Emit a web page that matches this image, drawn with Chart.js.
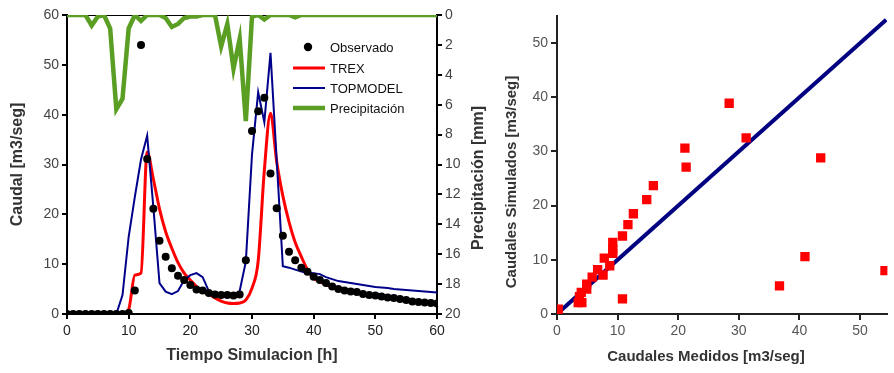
<!DOCTYPE html>
<html><head><meta charset="utf-8">
<script src="https://cdn.jsdelivr.net/npm/chart.js@4.4.0/dist/chart.umd.min.js"></script>
<style>
html,body{margin:0;padding:0;background:#fff;}
#c1{position:absolute;left:0;top:0;}
#c2{position:absolute;left:495px;top:0;}
</style></head><body>
<canvas id="c1" width="495" height="373"></canvas>
<canvas id="c2" width="399" height="373"></canvas>
<script>
// ---- Hidrograma (horas 0..60) ----
const horas = [0,1,2,3,4,5,6,7,8,9,10,11,12,13,14,15,16,17,18,19,20,21,22,23,24,25,26,27,28,29,30,
  31,32,33,34,35,36,37,38,39,40,41,42,43,44,45,46,47,48,49,50,51,52,53,54,55,56,57,58,59,60];
const observado = [0,0,0,0,0,0,0,0,0,0,0.2,
  4.7,54,31.1,21.1,14.7,11.5,9.2,7.7,6.8,5.8,
  4.9,4.7,4.2,3.9,3.8,3.8,3.7,3.9,10.8,36.7,
  40.7,43.4,28.2,21.2,15.7,12.5,10.8,9.3,8.5,7.5,
  6.8,6.2,5.5,5.0,4.7,4.5,4.4,4.0,3.8,3.7,
  3.5,3.3,3.2,3.0,2.8,2.5,2.4,2.3,2.2,2.1];
const trex = [0,0,0,0,0,0,0,0,0,0,
  0.9,7.8,8.2,32.5,27.1,21.1,16.5,13.2,10.3,8.2,6.8,
  5.5,4.6,4.0,3.2,2.6,2.2,2.1,2.2,2.8,5.2,
  10.6,28.8,40.3,30.6,23.7,18.5,14.4,11.5,8.9,7.2,
  6.5,5.9,5.4,5.0,4.7,4.4,4.2,4.0,3.8,3.6,
  3.4,3.3,3.1,3.0,2.8,2.7,2.5,2.4,2.3,2.2];
const topmodel = [0,0,0,0,0,0,0,0,0,
  3.8,15.5,23.5,31,35.8,21.5,6.2,4.5,4.0,4.6,
  6.8,7.8,8.2,7.4,4.6,4.1,3.9,3.7,3.5,4.6,
  10.5,32,44.5,38.5,52.4,31,9.6,9.3,8.9,8.5,
  8.3,8.2,8.0,7.4,7.0,6.6,6.4,6.2,6.0,5.8,
  5.6,5.4,5.3,5.2,5.0,4.9,4.8,4.7,4.6,4.5,
  4.4,4.3];
const precipitacion = [0,0,0,0,0.7,0.1,0,0.9,6.3,5.6,
  0.9,0,0.4,0,0,0,0.2,0.8,0.6,0.2,
  0.1,0.1,0,0,0,2.1,0.6,3.6,1.6,7.1,
  0.1,0,0.3,0,0,0,0,0.15,0,0,
  0,0,0,0,0,0,0,0,0,0,0,0,0,0,0,0,0,0,0,0,0];
const ticksCaudal = [0,10,20,30,40,50,60];
const ticksPrecip = [0,2,4,6,8,10,12,14,16,18,20];

// ---- Dispersión: medidos vs simulados ----
const medidos =   [0,0.2,3.5,4.1,3.7,4.0,4.9,4.9,5.8,6.7,7.6,8.7,7.8,9.2,9.2,9.2,10.8,11.7,12.6,14.8,15.9,21.3,21.1,28.4,31.2,43.5,40.9,36.7,54.1,10.8];
const simulados = [0,0.9,2.1,2.1,3.2,4.0,4.6,5.5,6.8,8.2,7.2,8.9,10.3,11.2,11.9,13.2,14.4,16.5,18.5,21.1,23.7,27.1,30.6,38.9,32.5,28.8,10.6,5.2,8.0,2.8];
const lineaXY = [0,54.3];

const FONT = "'Liberation Sans', Arial, Helvetica, sans-serif";
const pts = (xs, ys) => xs.map((x,i)=>({x:x, y:ys[i]}));

function drawText(ctx, text, x, y, size, rot){
  ctx.save();
  ctx.font = "bold " + size + "px " + FONT;
  ctx.fillStyle = '#333';
  ctx.textAlign = 'center'; ctx.textBaseline = 'middle';
  ctx.translate(x, y); if (rot) ctx.rotate(rot);
  ctx.fillText(text, 0, 0);
  ctx.restore();
}

const topLine = {
  id:'topLine',
  beforeDatasetsDraw(chart){
    const {ctx, chartArea:a} = chart;
    ctx.save(); ctx.strokeStyle='#000'; ctx.lineWidth=1;
    ctx.beginPath(); ctx.moveTo(a.left, a.top+0.5); ctx.lineTo(a.right, a.top+0.5); ctx.stroke();
    ctx.restore();
  }
};
const titulosIzq = {
  id:'titulosIzq',
  afterDraw(chart){
    drawText(chart.ctx, 'Precipitación [mm]', 479, 178, 16, -Math.PI/2);
  }
};
const leyenda = {
  id:'leyenda',
  afterDatasetsDraw(chart){
    const ctx = chart.ctx;
    const ds = chart.data.datasets;
    const x0 = 293, x1 = 325, tx = 330;
    const rows = [47, 68, 88, 108];
    ctx.save();
    ctx.font = "13px " + FONT;
    ctx.textBaseline = 'middle';
    ctx.beginPath(); ctx.fillStyle='#000'; ctx.arc(308, rows[0], 4.2, 0, Math.PI*2); ctx.fill();
    const items = [ds[0], ds[2], ds[1], ds[3]];
    for (let i=1;i<4;i++){
      ctx.strokeStyle = items[i].borderColor; ctx.lineWidth = items[i].borderWidth;
      ctx.beginPath(); ctx.moveTo(x0, rows[i]); ctx.lineTo(x1, rows[i]); ctx.stroke();
    }
    ctx.fillStyle='#111';
    for (let i=0;i<4;i++) ctx.fillText(items[i].label, tx, rows[i]+1);
    ctx.restore();
  }
};

const axisGrid = {drawOnChartArea:false, drawTicks:true, tickLength:5, color:'#000', lineWidth:2};
const axisBorder = {display:true, color:'#000', width:2};

new Chart(document.getElementById('c1'), {
  type:'line',
  data:{datasets:[
    {label:'Observado', data:pts(horas, observado), showLine:false, pointRadius:4, pointBackgroundColor:'#000', pointBorderWidth:0, borderColor:'#000', order:0, yAxisID:'y'},
    {label:'TOPMODEL', data:pts(horas, topmodel), borderColor:'#00008b', borderWidth:2, pointRadius:0, tension:0, order:1, yAxisID:'y'},
    {label:'TREX', data:pts(horas, trex), borderColor:'#ff0000', borderWidth:3, pointRadius:0, cubicInterpolationMode:'monotone', order:2, yAxisID:'y'},
    {label:'Precipitación', data:pts(horas, precipitacion), borderColor:'#5a9e23', borderWidth:4.5, pointRadius:0, tension:0, order:3, yAxisID:'y2'}
  ]},
  options:{
    responsive:false, animation:false, devicePixelRatio:1,
    layout:{padding:{top:15,left:0,right:0,bottom:0}},
    plugins:{legend:{display:false}, tooltip:{enabled:false}},
    scales:{
      x:{type:'linear', min:0, max:60,
        ticks:{stepSize:10, color:'#222', font:{family:FONT,size:14}, padding:4},
        grid:axisGrid, border:axisBorder,
        title:{display:true, text:'Tiempo Simulacion [h]', color:'#333', font:{family:FONT,size:16,weight:'bold'}, padding:{top:0,bottom:8}},
        afterFit(s){ s.height = 59; }},
      y:{type:'linear', position:'left', min:0, max:60,
        afterBuildTicks(s){ s.ticks = ticksCaudal.map(v=>({value:v})); },
        ticks:{color:'#444', font:{family:FONT,size:14}, padding:3},
        grid:axisGrid, border:axisBorder,
        title:{display:true, text:'Caudal [m3/seg]', color:'#333', font:{family:FONT,size:16,weight:'bold'}, padding:{top:8,bottom:0}},
        afterFit(s){ s.width = 67; }},
      y2:{type:'linear', position:'right', min:0, max:20, reverse:true,
        afterBuildTicks(s){ s.ticks = ticksPrecip.map(v=>({value:v})); },
        ticks:{color:'#444', font:{family:FONT,size:14}, padding:3},
        grid:axisGrid, border:axisBorder,
        title:{display:false},
        afterFit(s){ s.width = 58; }}
    }
  },
  plugins:[topLine, leyenda, titulosIzq]
});

const grid2 = {drawOnChartArea:false, drawTicks:true, tickLength:6, color:'#222', lineWidth:2};
const border2 = {display:true, color:'#222', width:2};
const titulosDer = {
  id:'titulosDer',
  afterDraw(chart){
    drawText(chart.ctx, 'Caudales Simulados [m3/seg]', 17, 182, 15, -Math.PI/2);
    drawText(chart.ctx, 'Caudales Medidos [m3/seg]', 211, 357, 15, 0);
  }
};

new Chart(document.getElementById('c2'), {
  type:'scatter',
  data:{datasets:[
    {label:'Caudales', data:pts(medidos, simulados), pointStyle:'rect', pointRadius:6.6, pointBackgroundColor:'#ff0000', pointBorderWidth:0, borderColor:'#ff0000', order:0},
    {label:'1:1', data:pts(lineaXY, lineaXY), showLine:true, borderColor:'#000080', borderWidth:4, pointRadius:0, order:1}
  ]},
  options:{
    responsive:false, animation:false, devicePixelRatio:1,
    layout:{padding:{top:16,left:0,right:4,bottom:0}},
    plugins:{legend:{display:false}, tooltip:{enabled:false}},
    scales:{
      x:{type:'linear', min:0, max:54.5,
        ticks:{stepSize:10, includeBounds:false, color:'#555', font:{family:FONT,size:14}, padding:3},
        grid:grid2, border:border2,
        title:{display:false},
        afterFit(s){ s.height = 59; }},
      y:{type:'linear', min:0, max:55,
        ticks:{stepSize:10, includeBounds:false, color:'#555', font:{family:FONT,size:14}, padding:3},
        grid:grid2, border:border2,
        title:{display:false},
        afterFit(s){ s.width = 62; }}
    }
  },
  plugins:[titulosDer]
});
</script>
</body></html>
